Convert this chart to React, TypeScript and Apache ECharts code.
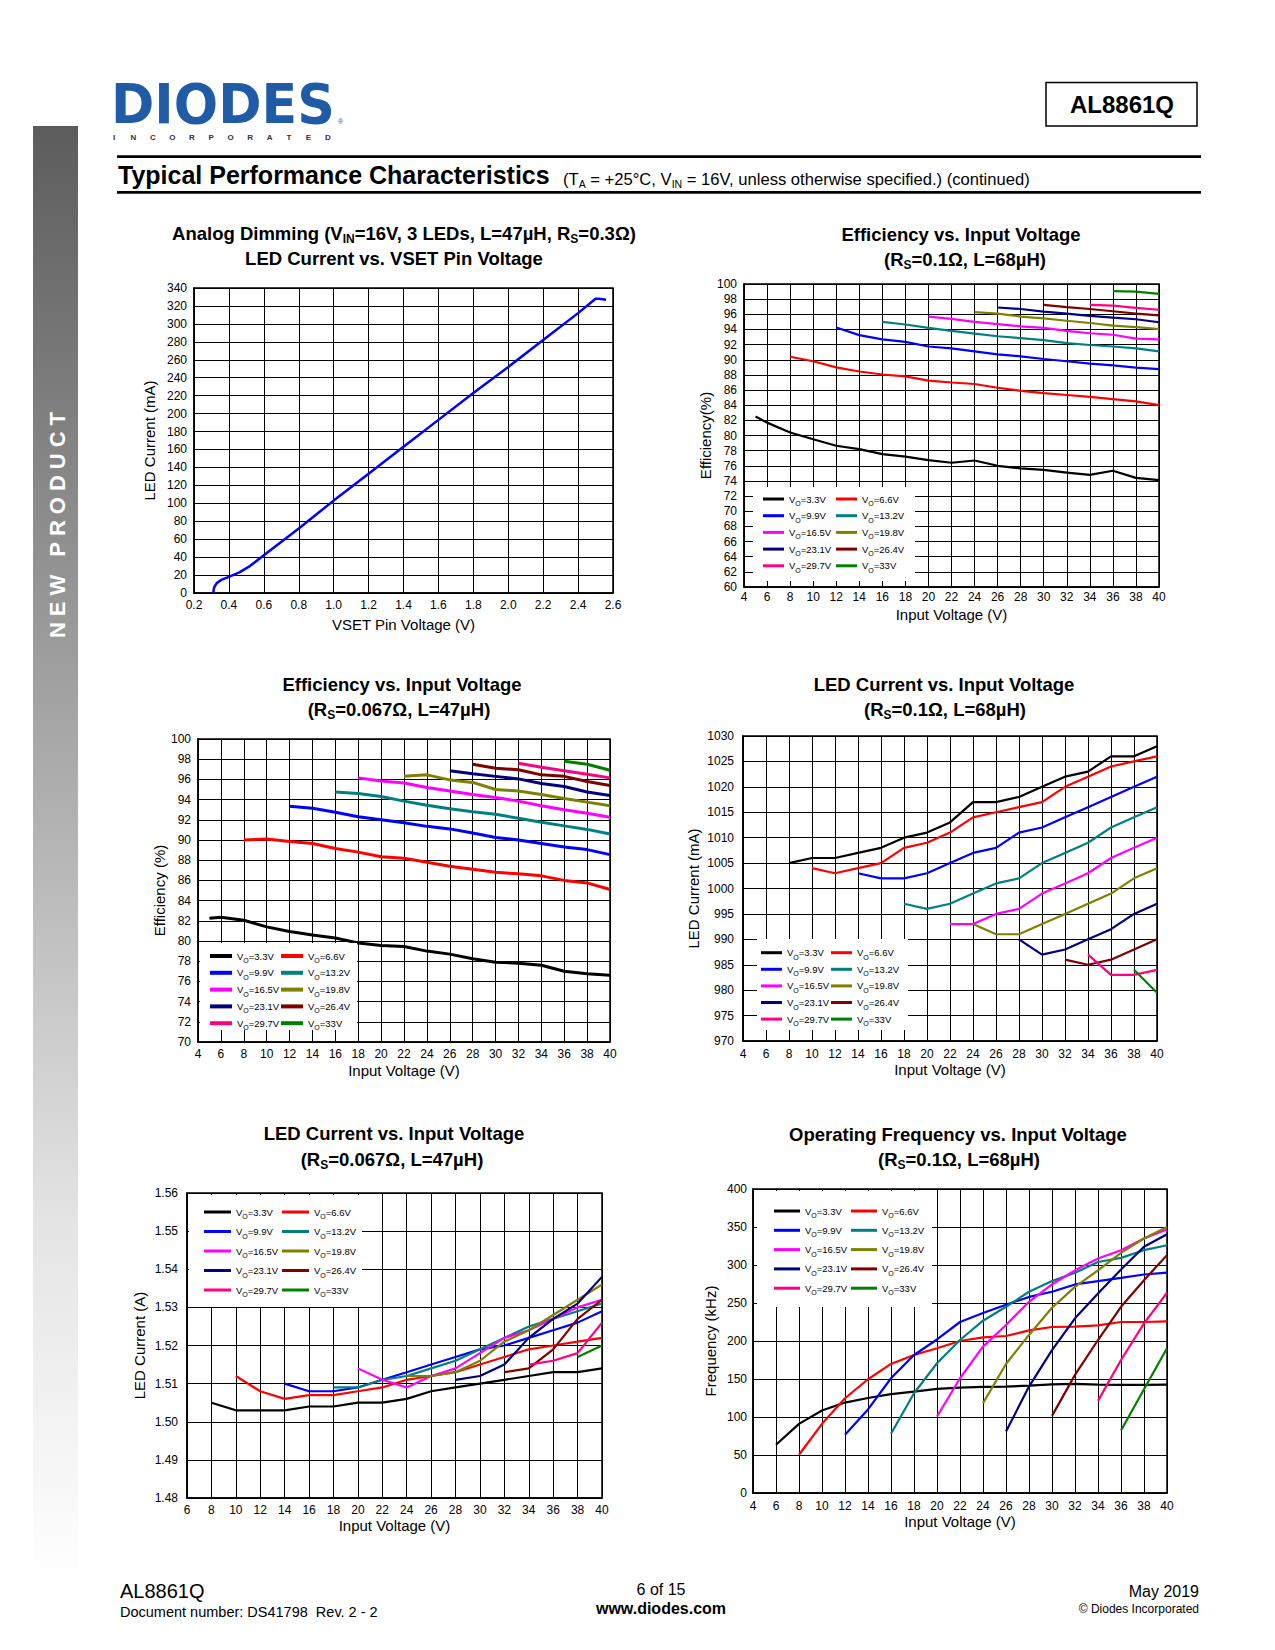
import React, { useEffect, useRef } from 'react';
import * as echarts from 'echarts';

const FONT = "'Liberation Sans', Arial, Helvetica, sans-serif";

const voNames = ['VO=3.3V', 'VO=6.6V', 'VO=9.9V', 'VO=13.2V', 'VO=16.5V', 'VO=19.8V', 'VO=23.1V', 'VO=26.4V', 'VO=29.7V', 'VO=33V'];
const voColors = ['#000000', '#ff0000', '#0000ff', '#008080', '#ff00ff', '#808000', '#000080', '#800000', '#ff0080', '#008000'];

// Chart 1: Analog dimming
const dimVset = [0.31, 0.315, 0.33, 0.36, 0.4, 0.46, 0.52, 0.6, 0.8, 1.0, 1.2, 1.4, 1.6, 1.8, 2.0, 2.2, 2.4, 2.5, 2.52, 2.56];
const dimCurrent = [0, 6, 11, 15, 18, 23, 30, 42, 72, 103, 133, 163, 193, 223, 252, 282, 312, 328, 328, 327];

// Chart 2: Efficiency vs VIN (RS=0.1Ω, L=68µH)  [VIN, %]
const effRs01 = [
  [[5, 82.5], [6, 81.7], [8, 80.4], [10, 79.5], [12, 78.65], [14, 78.2], [16, 77.55], [18, 77.2], [20, 76.75], [22, 76.4], [24, 76.7], [26, 76.0], [28, 75.65], [30, 75.45], [32, 75.1], [34, 74.8], [36, 75.35], [38, 74.4], [40, 74.1]],
  [[8, 90.4], [10, 89.8], [12, 89.0], [14, 88.45], [16, 88.05], [18, 87.8], [20, 87.25], [22, 87.0], [24, 86.8], [26, 86.3], [28, 85.9], [30, 85.6], [32, 85.35], [34, 85.1], [36, 84.8], [38, 84.5], [40, 84.0]],
  [[12, 94.25], [14, 93.25], [16, 92.7], [18, 92.35], [20, 91.75], [22, 91.5], [24, 91.1], [26, 90.7], [28, 90.45], [30, 90.1], [32, 89.8], [34, 89.5], [36, 89.25], [38, 88.95], [40, 88.75]],
  [[16, 95.0], [18, 94.65], [20, 94.2], [22, 93.8], [24, 93.45], [26, 93.1], [28, 92.85], [30, 92.6], [32, 92.2], [34, 91.95], [36, 91.75], [38, 91.5], [40, 91.1]],
  [[20, 95.7], [22, 95.4], [24, 95.0], [26, 94.7], [28, 94.4], [30, 94.2], [32, 93.8], [34, 93.5], [36, 93.3], [38, 92.8], [40, 92.7]],
  [[24, 96.3], [26, 96.1], [28, 95.7], [30, 95.45], [32, 95.15], [34, 94.85], [36, 94.5], [38, 94.3], [40, 94.05]],
  [[26, 96.9], [28, 96.7], [30, 96.35], [32, 96.1], [34, 95.8], [36, 95.55], [38, 95.35], [40, 94.95]],
  [[30, 97.25], [32, 96.95], [34, 96.7], [36, 96.4], [38, 96.1], [40, 95.85]],
  [[34, 97.25], [36, 97.15], [38, 96.85], [40, 96.6]],
  [[36, 99.05], [38, 99.0], [40, 98.7]],
];

// Chart 3: Efficiency vs VIN (RS=0.067Ω, L=47µH)
const effRs0067 = [
  [[5, 82.25], [6, 82.35], [8, 82.05], [10, 81.4], [12, 80.95], [14, 80.6], [16, 80.3], [18, 79.8], [20, 79.55], [22, 79.45], [24, 79.0], [26, 78.7], [28, 78.25], [30, 77.9], [32, 77.8], [34, 77.6], [36, 77.0], [38, 76.75], [40, 76.6]],
  [[8, 90.0], [10, 90.1], [12, 89.85], [14, 89.65], [16, 89.15], [18, 88.8], [20, 88.35], [22, 88.2], [24, 87.8], [26, 87.4], [28, 87.1], [30, 86.8], [32, 86.65], [34, 86.45], [36, 86.0], [38, 85.75], [40, 85.1]],
  [[12, 93.35], [14, 93.15], [16, 92.75], [18, 92.3], [20, 92.0], [22, 91.7], [24, 91.35], [26, 91.1], [28, 90.7], [30, 90.25], [32, 90.0], [34, 89.65], [36, 89.3], [38, 89.05], [40, 88.55]],
  [[16, 94.75], [18, 94.6], [20, 94.3], [22, 93.85], [24, 93.45], [26, 93.1], [28, 92.8], [30, 92.55], [32, 92.15], [34, 91.75], [36, 91.4], [38, 91.05], [40, 90.6]],
  [[18, 96.15], [20, 95.85], [22, 95.65], [24, 95.2], [26, 94.85], [28, 94.5], [30, 94.2], [32, 93.85], [34, 93.4], [36, 93.0], [38, 92.65], [40, 92.25]],
  [[22, 96.3], [24, 96.45], [26, 95.95], [28, 95.7], [30, 95.0], [32, 94.85], [34, 94.5], [36, 94.1], [38, 93.75], [40, 93.4]],
  [[26, 96.85], [28, 96.55], [30, 96.3], [32, 96.05], [34, 95.6], [36, 95.3], [38, 94.75], [40, 94.4]],
  [[28, 97.5], [30, 97.1], [32, 96.95], [34, 96.45], [36, 96.3], [38, 95.8], [40, 95.4]],
  [[32, 97.6], [34, 97.2], [36, 96.85], [38, 96.5], [40, 96.15]],
  [[36, 97.8], [38, 97.5], [40, 96.9]],
];

// Chart 4: LED current vs VIN (RS=0.1Ω, L=68µH)  [VIN, mA]
const curRs01 = [
  [[8, 1005], [10, 1006], [12, 1006], [14, 1007], [16, 1008], [18, 1010], [20, 1011], [22, 1013], [24, 1017], [26, 1017], [28, 1018], [30, 1020], [32, 1022], [34, 1023], [36, 1026], [38, 1026], [40, 1028]],
  [[10, 1004], [12, 1003], [14, 1004], [16, 1005], [18, 1008], [20, 1009], [22, 1011], [24, 1014], [26, 1015], [28, 1016], [30, 1017], [32, 1020], [34, 1022], [36, 1024], [38, 1025], [40, 1026]],
  [[14, 1003], [16, 1002], [18, 1002], [20, 1003], [22, 1005], [24, 1007], [26, 1008], [28, 1011], [30, 1012], [32, 1014], [34, 1016], [36, 1018], [38, 1020], [40, 1022]],
  [[18, 997], [20, 996], [22, 997], [24, 999], [26, 1001], [28, 1002], [30, 1005], [32, 1007], [34, 1009], [36, 1012], [38, 1014], [40, 1016]],
  [[22, 993], [24, 993], [26, 995], [28, 996], [30, 999], [32, 1001], [34, 1003], [36, 1006], [38, 1008], [40, 1010]],
  [[24, 993], [26, 991], [28, 991], [30, 993], [32, 995], [34, 997], [36, 999], [38, 1002], [40, 1004]],
  [[28, 990], [30, 987], [32, 988], [34, 990], [36, 992], [38, 995], [40, 997]],
  [[32, 986], [34, 985], [36, 986], [38, 988], [40, 990]],
  [[34, 987], [36, 983], [38, 983], [40, 984]],
  [[38, 984], [40, 979.5]],
];

// Chart 5: LED current vs VIN (RS=0.067Ω, L=47µH)  [VIN, A]
const curRs0067 = [
  [[8, 1.505], [10, 1.503], [12, 1.503], [14, 1.503], [16, 1.504], [18, 1.504], [20, 1.505], [22, 1.505], [24, 1.506], [26, 1.508], [28, 1.509], [30, 1.51], [32, 1.511], [34, 1.512], [36, 1.513], [38, 1.513], [40, 1.514]],
  [[10, 1.512], [12, 1.508], [14, 1.506], [16, 1.507], [18, 1.507], [20, 1.508], [22, 1.509], [24, 1.511], [26, 1.512], [28, 1.513], [30, 1.515], [32, 1.517], [34, 1.519], [36, 1.52], [38, 1.521], [40, 1.522]],
  [[14, 1.51], [16, 1.508], [18, 1.508], [20, 1.509], [22, 1.511], [24, 1.513], [26, 1.515], [28, 1.517], [30, 1.519], [32, 1.52], [34, 1.522], [36, 1.524], [38, 1.526], [40, 1.529]],
  [[18, 1.509], [20, 1.509], [22, 1.511], [24, 1.512], [26, 1.514], [28, 1.516], [30, 1.519], [32, 1.522], [34, 1.525], [36, 1.527], [38, 1.529], [40, 1.531]],
  [[20, 1.514], [22, 1.511], [24, 1.509], [26, 1.512], [28, 1.514], [30, 1.518], [32, 1.522], [34, 1.524], [36, 1.527], [38, 1.53], [40, 1.532]],
  [[24, 1.512], [26, 1.512], [28, 1.513], [30, 1.516], [32, 1.521], [34, 1.524], [36, 1.528], [38, 1.532], [40, 1.536]],
  [[28, 1.511], [30, 1.512], [32, 1.515], [34, 1.522], [36, 1.527], [38, 1.531], [40, 1.538]],
  [[32, 1.513], [34, 1.514], [36, 1.519], [38, 1.527], [40, 1.532]],
  [[34, 1.515], [36, 1.516], [38, 1.518], [40, 1.526]],
  [[38, 1.517], [40, 1.52]],
];

// Chart 6: Operating frequency vs VIN (RS=0.1Ω, L=68µH)  [VIN, kHz]
const freqRs01 = [
  [[6, 63.5], [8, 91], [10, 108.5], [12, 119], [14, 125], [16, 130], [18, 133.5], [20, 137], [22, 138.7], [24, 139.6], [26, 140], [28, 141.4], [30, 143], [32, 143.5], [34, 142.7], [36, 142.2], [38, 142.2], [40, 142.7]],
  [[8, 50.3], [10, 91], [12, 124.7], [14, 149.7], [16, 169.8], [18, 181.6], [20, 190.4], [22, 200], [24, 204.8], [26, 206.6], [28, 214], [30, 218.4], [32, 218.8], [34, 220.6], [36, 225], [38, 225], [40, 225.8]],
  [[12, 76.6], [14, 110], [16, 151], [18, 181.6], [20, 202], [22, 225], [24, 236.8], [26, 247.7], [28, 258], [30, 264.8], [32, 274.4], [34, 278.8], [36, 283], [38, 287.5], [40, 290]],
  [[16, 78], [18, 131.3], [20, 170.7], [22, 201.3], [24, 226.7], [26, 245], [28, 264.8], [30, 278.8], [32, 289.7], [34, 304], [36, 309.4], [38, 319.5], [40, 326]],
  [[20, 100.7], [22, 151], [24, 192.6], [26, 221], [28, 251.6], [30, 274.4], [32, 293], [34, 308.5], [36, 319.5], [38, 334.8], [40, 346.6]],
  [[24, 118], [26, 169.8], [28, 208], [30, 243.8], [32, 271.3], [34, 293], [36, 316], [38, 334.8], [40, 350]],
  [[26, 81], [28, 140], [30, 188], [32, 229.8], [34, 262.6], [36, 294], [38, 323.9], [40, 340.5]],
  [[30, 101.5], [32, 155.4], [34, 201.3], [36, 245], [38, 280], [40, 313]],
  [[34, 121.2], [36, 175], [38, 223.2], [40, 263.5]],
  [[36, 82.3], [38, 136.5], [40, 190.4]],
];

// Chart layouts: grid [left, top, width, height]; axis [min, max, interval, decimals, labelMargin, name, nameGap]
const layouts: any[] = [
  { grid: [194, 288, 419, 305], x: [0.2, 2.6, 0.2, 1, 6, 'VSET Pin Voltage (V)', 24], y: [0, 340, 20, 0, 7, 'LED Current (mA)', 37] },
  { grid: [744, 284, 415, 303], x: [4, 40, 2, 0, 4, 'Input Voltage (V)', 20], y: [60, 100, 2, 0, 7, 'Efficiency(%)', 27] },
  { grid: [198, 739, 412, 303], x: [4, 40, 2, 0, 6, 'Input Voltage (V)', 21], y: [70, 100, 2, 0, 7, 'Efficiency (%)', 30] },
  { grid: [743, 736, 414, 305], x: [4, 40, 2, 0, 7, 'Input Voltage (V)', 21], y: [970, 1030, 5, 0, 9, 'LED Current (mA)', 42] },
  { grid: [187, 1193, 415, 305], x: [6, 40, 2, 0, 6, 'Input Voltage (V)', 20], y: [1.48, 1.56, 0.01, 2, 9, 'LED Current (A)', 40] },
  { grid: [753, 1189, 414, 304], x: [4, 40, 2, 0, 7, 'Input Voltage (V)', 21], y: [0, 400, 50, 0, 6, 'Frequency (kHz)', 35] },
];

const chartTitles: any[] = [
  ['Analog Dimming (V{s|IN}=16V, 3 LEDs, L=47µH, R{s|S}=0.3Ω)', 404, 233, 'LED Current vs. VSET Pin Voltage', 394, 258],
  ['Efficiency vs. Input Voltage', 961, 234, '(R{s|S}=0.1Ω, L=68µH)', 965, 259],
  ['Efficiency vs. Input Voltage', 402, 684, '(R{s|S}=0.067Ω, L=47µH)', 399, 709],
  ['LED Current vs. Input Voltage', 944, 684, '(R{s|S}=0.1Ω, L=68µH)', 945, 709],
  ['LED Current vs. Input Voltage', 394, 1133, '(R{s|S}=0.067Ω, L=47µH)', 392, 1159],
  ['Operating Frequency vs. Input Voltage', 958, 1134, '(R{s|S}=0.1Ω, L=68µH)', 959, 1159],
];

// legend layout per multi-series chart: [col1Left, col2Left, firstRowCenter, pitch, itemWidth, lineThickness]
const legendLayouts: any[] = [
  null,
  [763, 836, 499, 16.7, 21, 3],
  [210, 281, 956, 16.8, 22, 4],
  [761, 831, 952.7, 16.6, 21, 3],
  [204, 282, 1212, 19.5, 27, 3],
  [774, 851, 1211, 19.3, 26, 3],
];
// white legend boxes [x, y, w, h]
const legendBoxes = [
  [753, 487, 162, 94],
  [200, 943, 157, 87],
  [757, 939, 151, 91],
  [189, 1195, 173, 112],
  [757, 1191, 175, 116],
];

function measure(text: string, font: string): number {
  const c = document.createElement('canvas').getContext('2d');
  if (!c) return text.length * 12;
  c.font = font;
  return c.measureText(text).width;
}

function txt(text: string, x: number, y: number, size: number, opts: any = {}) {
  const align = opts.align || 'left';
  return {
    type: 'text',
    z: 20,
    silent: true,
    style: {
      text,
      x,
      y,
      fill: opts.fill || '#000',
      fontSize: size,
      fontWeight: opts.bold ? 'bold' : 'normal',
      fontFamily: opts.family || FONT,
      align,
      textAlign: align,
      verticalAlign: 'middle',
      textVerticalAlign: 'middle',
      lineHeight: opts.lineHeight,
      rich: opts.rich,
    },
  };
}

function buildOption() {
  const grids: any[] = [];
  const xAxes: any[] = [];
  const yAxes: any[] = [];
  layouts.forEach((l, i) => {
    grids.push({ left: l.grid[0], top: l.grid[1], width: l.grid[2], height: l.grid[3], show: true, borderColor: '#000', borderWidth: 1.5, containLabel: false });
    const mk = (a: any[]) => ({
      type: 'value',
      gridIndex: i,
      min: a[0],
      max: a[1],
      interval: a[2],
      name: a[5],
      nameLocation: 'middle',
      nameGap: a[6],
      nameTextStyle: { fontFamily: FONT, fontSize: 15, color: '#000' },
      axisLine: { show: true, onZero: false, lineStyle: { color: '#000', width: 1.5 } },
      axisTick: { show: false },
      splitLine: { show: true, lineStyle: { color: '#000', width: 1 } },
      axisLabel: {
        show: true,
        margin: a[4],
        fontFamily: FONT,
        fontSize: 12,
        color: '#000',
        showMinLabel: true,
        showMaxLabel: true,
        formatter: (v: number) => v.toFixed(a[3]),
      },
    });
    xAxes.push(mk(l.x));
    yAxes.push(mk(l.y));
  });

  const series: any[] = [];
  series.push({
    type: 'line',
    name: 'LED Current',
    xAxisIndex: 0,
    yAxisIndex: 0,
    data: dimVset.map((v, i) => [v, dimCurrent[i]]),
    symbol: 'none',
    showSymbol: false,
    lineStyle: { color: '#0000ff', width: 2.5 },
    itemStyle: { color: '#0000ff' },
    z: 3,
  });
  const sets = [null, effRs01, effRs0067, curRs01, curRs0067, freqRs01];
  const widths = [2.5, 2.2, 3, 2.2, 2.2, 2.2];
  sets.forEach((set, k) => {
    if (!set) return;
    set.forEach((pts, i) => {
      series.push({
        type: 'line',
        name: voNames[i],
        xAxisIndex: k,
        yAxisIndex: k,
        data: pts,
        symbol: 'none',
        showSymbol: false,
        lineStyle: { color: voColors[i], width: widths[k] },
        itemStyle: { color: voColors[i] },
        z: 3,
      });
    });
  });

  const legends: any[] = [];
  legendLayouts.forEach((ll) => {
    if (!ll) return;
    const [c1, c2, row1, pitch, iw, th] = ll;
    const common = {
      orient: 'vertical',
      top: row1 - 8,
      padding: 0,
      itemWidth: iw,
      itemHeight: th,
      itemGap: pitch - 16,
      icon: 'rect',
      selectedMode: false,
      z: 10,
      formatter: (name: string) => 'V{s|O}' + name.slice(2),
      textStyle: {
        fontFamily: FONT,
        fontSize: 9.5,
        color: '#000',
        lineHeight: 16,
        rich: { s: { fontFamily: FONT, fontSize: 7, color: '#000', verticalAlign: 'bottom' } },
      },
    };
    legends.push({ ...common, left: c1, data: [0, 2, 4, 6, 8].map((j) => voNames[j]) });
    legends.push({ ...common, left: c2, data: [1, 3, 5, 7, 9].map((j) => voNames[j]) });
  });

  const g: any[] = [];
  // side bar
  g.push({
    type: 'rect',
    z: 1,
    silent: true,
    shape: { x: 33, y: 126, width: 45, height: 1460 },
    style: {
      fill: new echarts.graphic.LinearGradient(0, 0, 0, 1, [
        { offset: 0, color: '#5c5c5c' },
        { offset: 0.45, color: '#adadad' },
        { offset: 0.75, color: '#e4e4e4' },
        { offset: 1, color: '#ffffff' },
      ]),
    },
  });
  // NEW PRODUCT (vertical, letter spaced)
  const np = 'NEW PRODUCT';
  const npFont = `bold 22px ${FONT}`;
  const npWidths = np.split('').map((c) => measure(c, npFont));
  const npSum = npWidths.reduce((a, b) => a + b, 0);
  const npSpacing = (226 - npSum) / (np.length - 1);
  let acc = 0;
  const npChildren: any[] = np.split('').map((c, i) => {
    const el = {
      type: 'text',
      x: acc,
      y: 0,
      z: 30,
      silent: true,
      style: { text: c, fill: '#ffffff', fontSize: 22, fontWeight: 'bold', fontFamily: FONT, align: 'left', textAlign: 'left', verticalAlign: 'middle', textVerticalAlign: 'middle' },
    };
    acc += npWidths[i] + npSpacing;
    return el;
  });
  g.push({ type: 'group', x: 57, y: 638, rotation: Math.PI / 2, z: 30, children: npChildren });

  // Logo
  const logoFont = `bold 55px 'DejaVu Sans', ${FONT}`;
  const logoW = measure('DIODES', logoFont);
  g.push({
    type: 'text',
    z: 20,
    x: 111,
    y: 104,
    scaleX: 224 / logoW,
    silent: true,
    style: { text: 'DIODES', x: 0, y: 0, fill: '#1f5ba6', fontSize: 55, fontWeight: 'bold', fontFamily: `'DejaVu Sans', ${FONT}`, align: 'left', textAlign: 'left', verticalAlign: 'middle', textVerticalAlign: 'middle' },
  });
  g.push(txt('®', 338, 121, 7, { fill: '#1f5ba6' }));
  'INCORPORATED'.split('').forEach((c, i) => {
    g.push(txt(c, 114 + i * 19.45, 137, 8, { align: 'center', bold: true, fill: '#333' }));
  });

  // Part number box
  g.push({ type: 'rect', z: 20, silent: true, shape: { x: 1046, y: 82.5, width: 151, height: 43.5 }, style: { fill: 'none', stroke: '#000', lineWidth: 1.5 } });
  g.push(txt('AL8861Q', 1122, 104, 24, { align: 'center', bold: true }));

  // Header rules and title
  g.push({ type: 'rect', z: 20, silent: true, shape: { x: 117, y: 155.3, width: 1084, height: 2.8 }, style: { fill: '#000' } });
  g.push({ type: 'rect', z: 20, silent: true, shape: { x: 117, y: 191, width: 1084, height: 2.8 }, style: { fill: '#000' } });
  g.push(txt('Typical Performance Characteristics', 118, 175, 25, { bold: true }));
  g.push(txt('(T{s|A} = +25°C, V{s|IN} = 16V, unless otherwise specified.) (continued)', 563, 179, 16.6, {
    lineHeight: 20,
    rich: { s: { fontSize: 10.5, fontFamily: FONT, verticalAlign: 'bottom' } },
  }));

  // chart titles
  const titleRich = { s: { fontSize: 12, fontWeight: 'bold', fontFamily: FONT, lineHeight: 16, verticalAlign: 'bottom' } };
  chartTitles.forEach((t) => {
    g.push(txt(t[0], t[1], t[2], 18.5, { align: 'center', bold: true, lineHeight: 24, rich: titleRich }));
    g.push(txt(t[3], t[4], t[5], 18.5, { align: 'center', bold: true, lineHeight: 24, rich: titleRich }));
  });

  // legend white boxes
  legendBoxes.forEach((b) => {
    g.push({ type: 'rect', z: 5, silent: true, shape: { x: b[0], y: b[1], width: b[2], height: b[3] }, style: { fill: '#ffffff' } });
  });

  // footer
  g.push(txt('AL8861Q', 120, 1591, 20));
  g.push(txt('Document number: DS41798  Rev. 2 - 2', 120, 1612, 14.5));
  g.push(txt('6 of 15', 661, 1589, 16, { align: 'center' }));
  g.push(txt('www.diodes.com', 661, 1608, 16, { align: 'center', bold: true }));
  g.push(txt('May 2019', 1199, 1591, 16, { align: 'right' }));
  g.push(txt('© Diodes Incorporated', 1199, 1609, 12, { align: 'right' }));

  return {
    animation: false,
    backgroundColor: '#ffffff',
    textStyle: { fontFamily: FONT },
    grid: grids,
    xAxis: xAxes,
    yAxis: yAxes,
    legend: legends,
    series,
    graphic: { elements: g },
  };
}

export default function App() {
  const ref = useRef<HTMLDivElement>(null);
  useEffect(() => {
    if (!ref.current) return;
    const chart = echarts.init(ref.current, null, { renderer: 'svg' });
    chart.setOption(buildOption() as any);
    return () => chart.dispose();
  }, []);
  return <div ref={ref} style={{ position: 'absolute', left: 0, top: 0, width: 1275, height: 1650, background: '#fff' }} />;
}
